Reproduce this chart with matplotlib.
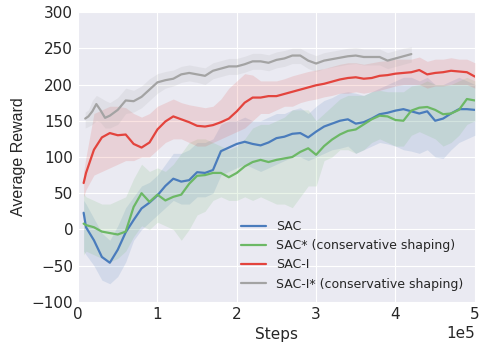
import matplotlib
matplotlib.use('Agg')
import matplotlib.pyplot as plt
import numpy as np

plt.style.use('seaborn-v0_8-darkgrid')
plt.rcParams['font.family'] = ['DejaVu Sans']

# steps in units of 1e5
steps = [0.07, 0.1, 0.2, 0.3, 0.4, 0.5, 0.6, 0.7, 0.8, 0.9,
         1.0, 1.1, 1.2, 1.3, 1.4, 1.5, 1.6, 1.7, 1.8, 1.9,
         2.0, 2.1, 2.2, 2.3, 2.4, 2.5, 2.6, 2.7, 2.8, 2.9,
         3.0, 3.1, 3.2, 3.3, 3.4, 3.5, 3.6, 3.7, 3.8, 3.9,
         4.0, 4.1, 4.2, 4.3, 4.4, 4.5, 4.6, 4.7, 4.8, 4.9, 5.0]

sac = [23, 3, -15, -38, -46, -28, -4, 13, 29, 37,
       47, 60, 70, 66, 68, 79, 78, 82, 108, 113,
       118, 121, 118, 116, 120, 126, 128, 132, 133, 127,
       135, 142, 146, 150, 152, 146, 148, 153, 159, 161,
       164, 166, 163, 160, 163, 150, 153, 160, 166, 166, 165]
sac_lo = [-30, -35, -50, -70, -75, -65, -45, -15, 0, 10,
          20, 30, 40, 35, 35, 45, 45, 50, 75, 80,
          85, 90, 85, 80, 85, 90, 95, 100, 100, 95,
          100, 105, 110, 112, 115, 105, 110, 115, 120, 118,
          115, 110, 108, 105, 110, 100, 98, 110, 120, 125, 130]
sac_hi = [40, 35, 15, -5, -15, 5, 30, 45, 60, 65,
          75, 90, 105, 105, 110, 120, 120, 125, 145, 150,
          150, 155, 150, 150, 155, 160, 160, 165, 168, 160,
          170, 178, 182, 188, 190, 188, 185, 190, 195, 200,
          205, 210, 210, 205, 210, 200, 200, 205, 210, 205, 200]

sac_cs = [8, 6, 3, -3, -5, -7, -3, 31, 50, 38,
          48, 40, 45, 48, 63, 74, 75, 78, 78, 72,
          78, 87, 93, 96, 93, 96, 98, 100, 107, 112,
          103, 115, 124, 131, 136, 138, 145, 152, 157, 156,
          151, 150, 164, 168, 169, 165, 159, 160, 165, 180, 178]
sac_cs_lo = [-35, -30, -35, -40, -45, -40, -30, -10, 5, 0,
             10, 5, 0, -15, 0, 20, 25, 40, 45, 40,
             40, 45, 40, 45, 40, 35, 35, 30, 45, 60,
             60, 95, 100, 110, 110, 105, 110, 120, 125, 120,
             115, 115, 130, 135, 130, 125, 115, 120, 130, 145, 150]
sac_cs_hi = [50, 45, 40, 35, 35, 40, 45, 70, 90, 80,
             85, 80, 90, 105, 120, 125, 125, 120, 115, 110,
             115, 125, 140, 145, 145, 150, 155, 165, 165, 165,
             150, 160, 170, 180, 185, 185, 185, 190, 192, 190,
             190, 190, 198, 200, 205, 200, 200, 200, 205, 210, 205]

saci = [64, 78, 110, 127, 133, 130, 131, 118, 113, 120,
        138, 149, 156, 152, 148, 143, 142, 144, 148, 153,
        163, 175, 182, 182, 184, 184, 187, 190, 193, 196,
        199, 201, 204, 207, 209, 210, 208, 209, 212, 213,
        215, 216, 217, 220, 214, 216, 217, 219, 218, 217, 211]
saci_lo = [45, 55, 75, 80, 85, 90, 95, 95, 100, 100,
           110, 120, 125, 125, 120, 115, 115, 120, 125, 130,
           135, 140, 150, 160, 160, 165, 170, 170, 175, 178,
           180, 183, 185, 188, 188, 190, 188, 190, 192, 195,
           198, 200, 200, 200, 195, 198, 198, 200, 200, 200, 195]
saci_hi = [80, 100, 160, 165, 170, 170, 168, 160, 155, 160,
           170, 175, 180, 175, 172, 170, 168, 170, 180, 195,
           205, 215, 213, 205, 205, 205, 208, 212, 215, 218,
           220, 222, 225, 228, 230, 230, 228, 230, 232, 233,
           235, 235, 235, 238, 232, 235, 235, 237, 235, 235, 230]

steps_gray = [0.09, 0.13, 0.18, 0.23, 0.28, 0.34, 0.4, 0.5, 0.6, 0.7,
              0.8, 0.9, 1.0, 1.1, 1.2, 1.3, 1.4, 1.5, 1.6, 1.7,
              1.8, 1.9, 2.0, 2.1, 2.2, 2.3, 2.4, 2.5, 2.6, 2.7,
              2.8, 2.9, 3.0, 3.1, 3.2, 3.3, 3.4, 3.5, 3.6, 3.7,
              3.8, 3.9, 4.0, 4.1, 4.2]
saci_cs = [153, 156, 163, 173, 165, 154, 157, 165, 178, 177,
           183, 193, 203, 206, 208, 214, 216, 214, 212, 219,
           222, 225, 225, 228, 232, 232, 230, 234, 236, 240,
           240, 233, 229, 233, 235, 237, 239, 240, 238, 238,
           238, 233, 236, 239, 242]
saci_cs_lo = [140, 142, 145, 150, 148, 140, 140, 145, 160, 162,
              168, 178, 188, 195, 198, 203, 205, 203, 200, 208,
              211, 214, 214, 217, 221, 221, 219, 223, 225, 229,
              229, 222, 218, 222, 224, 226, 228, 229, 227, 227,
              227, 222, 225, 228, 231]
saci_cs_hi = [162, 165, 178, 185, 182, 178, 175, 182, 195, 192,
              198, 208, 215, 218, 220, 225, 227, 225, 223, 230,
              233, 236, 236, 239, 243, 243, 241, 245, 247, 250,
              250, 244, 240, 244, 246, 248, 250, 251, 249, 249,
              249, 244, 247, 250, 252]

c_blue = '#4a7cbc'
c_green = '#6cb865'
c_red = '#e3443d'
c_gray = '#a3a3a3'

fig = plt.figure(figsize=(4.88, 3.45), dpi=100)
ax = fig.add_axes([0.16, 0.125, 0.813, 0.84])

x = np.array(steps) * 1e5
xg = np.array(steps_gray) * 1e5

series = [
    (x, sac, sac_lo, sac_hi, c_blue, 'SAC'),
    (x, sac_cs, sac_cs_lo, sac_cs_hi, c_green, 'SAC* (conservative shaping)'),
    (x, saci, saci_lo, saci_hi, c_red, 'SAC-I'),
    (xg, saci_cs, saci_cs_lo, saci_cs_hi, c_gray, 'SAC-I* (conservative shaping)'),
]
for xs, m, lo, hi, c, lab in series:
    ax.fill_between(xs, lo, hi, color=c, alpha=0.15, linewidth=0)
for xs, m, lo, hi, c, lab in series:
    ax.plot(xs, m, color=c, lw=1.6, label=lab)

ax.set_xlim(0, 5e5)
ax.set_ylim(-100, 300)
ax.set_xticks([0, 1e5, 2e5, 3e5, 4e5, 5e5])
ax.set_yticks(range(-100, 301, 50))
ax.ticklabel_format(axis='x', style='sci', scilimits=(0, 0))
ax.tick_params(labelsize=11, colors='#262626')
ax.xaxis.get_offset_text().set_fontsize(11)
ax.set_xlabel('Steps', fontsize=11, color='#262626')
ax.set_ylabel('Average Reward', fontsize=11.5, family='Liberation Sans', color='#262626')
ax.legend(loc='lower right', fontsize=9, frameon=False)

plt.savefig('out.png', dpi=100)
